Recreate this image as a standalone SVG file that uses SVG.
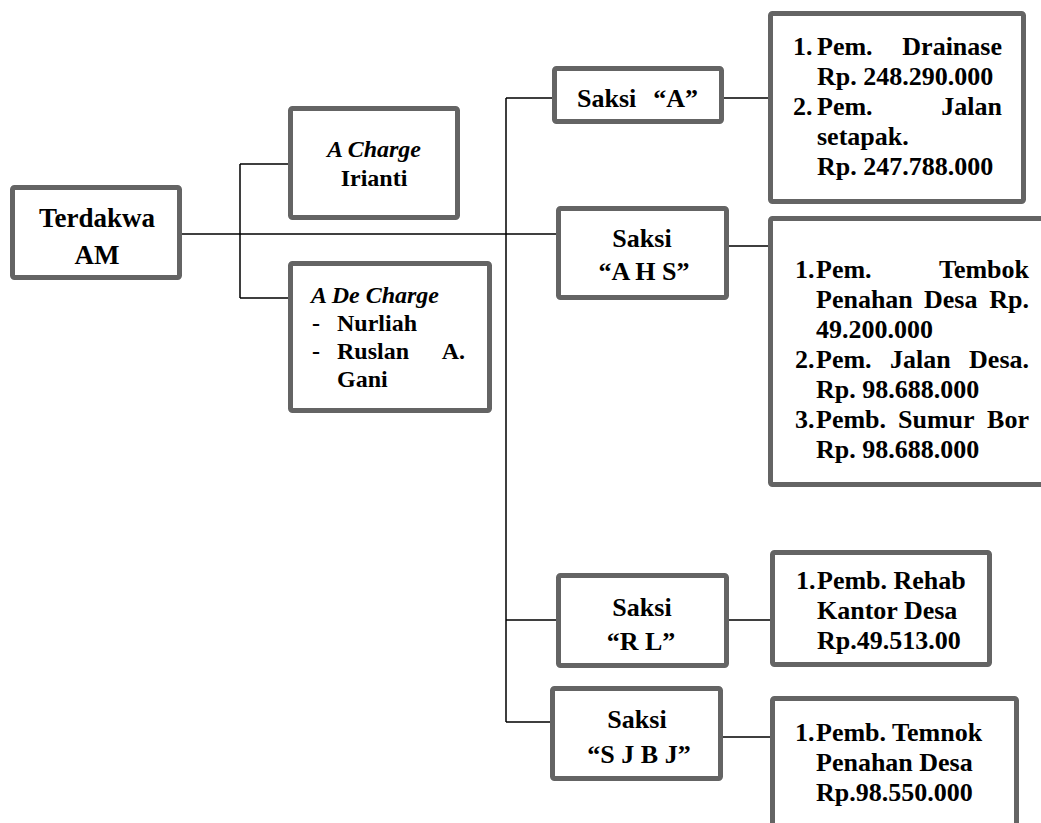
<svg xmlns="http://www.w3.org/2000/svg" width="1041" height="823" viewBox="0 0 1041 823" font-family="'Liberation Serif', 'Times New Roman', serif">
<style>
.box{fill:#fff;stroke:#646464;stroke-width:5;}
.con{fill:none;stroke:#000;stroke-width:1.5;}
text{font-family:'Liberation Serif','Times New Roman',serif;font-weight:bold;fill:#000;}
.t26{font-size:26px;}
.t27{font-size:27px;}
.t24{font-size:24px;}
.it{font-style:italic;}
.c{text-anchor:middle;}
.e{text-anchor:end;}
</style>
<rect width="1041" height="823" fill="#fff"/>
<g id="connectors">
<path class="con" d="M182 234H556"/>
<path class="con" d="M240 164V298M240 164H288M240 298H288"/>
<path class="con" d="M506 98V722M506 98H552M506 620H556M506 722H550"/>
<path class="con" d="M724 98H768M729 246H768M729 620H770M723 737H770"/>
</g>
<g id="terdakwa">
<rect class="box" x="12.5" y="187.5" width="167" height="90" rx="2"/>
<text class="t27 c" x="97" y="227">Terdakwa</text>
<text class="t27 c" x="97" y="264">AM</text>
</g>
<g id="a-charge">
<rect class="box" x="290.5" y="108.5" width="167" height="109" rx="2"/>
<text class="t24 c it" x="374" y="157">A Charge</text>
<text class="t24 c" x="374" y="186">Irianti</text>
</g>
<g id="a-de-charge">
<rect class="box" x="290.5" y="263.5" width="199" height="147" rx="2"/>
<text class="t24 it" x="311" y="303">A De Charge</text>
<text class="t24" x="312" y="331">-</text><text class="t24" x="337" y="331">Nurliah</text>
<text class="t24" x="312" y="359">-</text><text class="t24" x="337" y="359">Ruslan</text><text class="t24 e" x="465" y="359">A.</text>
<text class="t24" x="337" y="387">Gani</text>
</g>
<g id="saksi-a">
<rect class="box" x="554.5" y="68.5" width="167" height="53" rx="2"/>
<text class="t26" x="577" y="107">Saksi</text><text class="t26 e" x="698" y="107">“A”</text>
</g>
<g id="items-a">
<rect class="box" x="770.5" y="13.5" width="253" height="188" rx="2"/>
<text class="t26" x="793" y="55">1.</text><text class="t26" x="817" y="55">Pem.</text><text class="t26 e" x="1002" y="55">Drainase</text>
<text class="t26" x="817" y="85">Rp. 248.290.000</text>
<text class="t26" x="793" y="115">2.</text><text class="t26" x="817" y="115">Pem.</text><text class="t26 e" x="1002" y="115">Jalan</text>
<text class="t26" x="817" y="145">setapak.</text>
<text class="t26" x="817" y="175">Rp. 247.788.000</text>
</g>
<g id="saksi-ahs">
<rect class="box" x="558.5" y="208.5" width="168" height="89" rx="2"/>
<text class="t26 c" x="642" y="247">Saksi</text>
<text class="t26 c" x="644" y="280">“A H S”</text>
</g>
<g id="items-ahs">
<rect class="box" x="770.5" y="218.5" width="300" height="266" rx="2"/>
<text class="t26" x="795" y="278">1.</text><text class="t26" x="816" y="278">Pem.</text><text class="t26 e" x="1029" y="278">Tembok</text>
<text class="t26" x="816" y="308">Penahan</text><text class="t26" x="924" y="308">Desa</text><text class="t26 e" x="1029" y="308">Rp.</text>
<text class="t26" x="816" y="338">49.200.000</text>
<text class="t26" x="795" y="368">2.</text><text class="t26" x="816" y="368">Pem.</text><text class="t26" x="890" y="368">Jalan</text><text class="t26 e" x="1029" y="368">Desa.</text>
<text class="t26" x="816" y="398">Rp. 98.688.000</text>
<text class="t26" x="795" y="428">3.</text><text class="t26" x="816" y="428">Pemb.</text><text class="t26" x="898" y="428">Sumur</text><text class="t26 e" x="1029" y="428">Bor</text>
<text class="t26" x="816" y="458">Rp. 98.688.000</text>
</g>
<g id="saksi-rl">
<rect class="box" x="558.5" y="575.5" width="168" height="90" rx="2"/>
<text class="t26 c" x="642" y="616">Saksi</text>
<text class="t26 c" x="641" y="650">“R L”</text>
</g>
<g id="items-rl">
<rect class="box" x="772.5" y="552.5" width="217" height="112" rx="2"/>
<text class="t26" x="796" y="589">1.</text><text class="t26" x="817" y="589">Pemb. Rehab</text>
<text class="t26" x="817" y="619">Kantor Desa</text>
<text class="t26" x="817" y="649">Rp.49.513.00</text>
</g>
<g id="saksi-sjbj">
<rect class="box" x="552.5" y="688.5" width="168" height="90" rx="2"/>
<text class="t26 c" x="637" y="728">Saksi</text>
<text class="t26 c" x="639" y="763">“S J B J”</text>
</g>
<g id="items-sjbj">
<rect class="box" x="772.5" y="698.5" width="244" height="200" rx="2"/>
<text class="t26" x="795" y="741">1.</text><text class="t26" x="816" y="741">Pemb. Temnok</text>
<text class="t26" x="816" y="771">Penahan Desa</text>
<text class="t26" x="816" y="801">Rp.98.550.000</text>
</g>
</svg>
